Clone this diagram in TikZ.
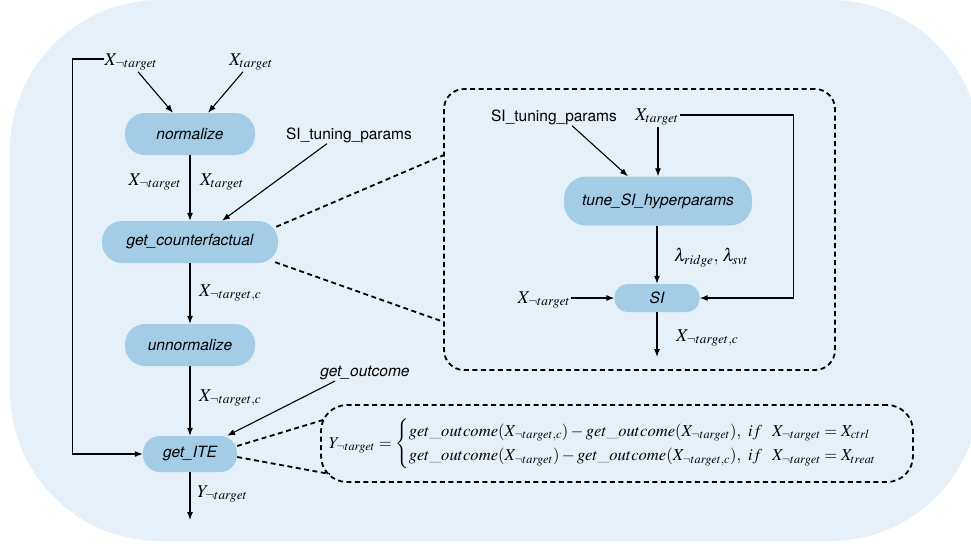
\documentclass[tikz,border=0pt]{standalone}
\usepackage{amsmath}
\usepackage{mathptmx}
\usepackage[no-math]{fontspec}
\setsansfont{TeX Gyre Heros}
\usetikzlibrary{arrows.meta}
\definecolor{bgblue}{RGB}{230,240,248}
\definecolor{nodeblue}{RGB}{163,205,230}
\tikzset{
  proc/.style={fill=nodeblue, rounded corners=20pt, inner sep=0pt, minimum height=42pt,
    font=\sffamily\itshape\fontsize{15.5}{18}\selectfont},
  lbl/.style={inner sep=1pt, font=\fontsize{18}{20}\selectfont},
  plain/.style={inner sep=1pt, font=\sffamily\fontsize{15.5}{18}\selectfont},
  arr/.style={-{Latex[length=8pt,width=6pt]}, line width=1.1pt},
  dsh/.style={line width=1.8pt, dash pattern=on 5pt off 3.5pt},
}
\begin{document}
\begin{tikzpicture}[x=1pt,y=-1pt]
\useasboundingbox (0,0) rectangle (971,544);
\begin{scope}
\clip (0,0) rectangle (971,544);
\fill[bgblue, rounded corners=150pt] (10,0) rectangle (980,541);
\end{scope}

% main column
\node[proc, minimum width=130pt] (norm) at (190,134) {normalize};
\node[proc, minimum width=176pt] (gc) at (190,242) {get\_counterfactual};
\node[proc, minimum width=130pt] (unnorm) at (190,345) {unnormalize};
\node[proc, minimum width=94pt, minimum height=36pt, rounded corners=17pt] (ite) at (190,454) {get\_ITE};

\node[lbl] (xnt) at (131,62) {$X_{\neg target}$};
\node[lbl] (xt) at (251,62) {$X_{target}$};
\draw[arr] ([xshift=7pt]xnt.south) -- ([xshift=-17pt]norm.north);
\draw[arr] ([xshift=-8pt]xt.south) -- ([xshift=18pt]norm.north);
\draw[arr] ([yshift=3pt]xnt.west) -- ++(-31,0) |- (ite.west);

\draw[arr] (norm.south) -- (gc.north);
\node[lbl] (l1) at (155,182) {$X_{\neg target}$};
\node[lbl] (l2) at (222,182) {$X_{target}$};
\node[plain] (sitp) at (349,135) {SI\_tuning\_params};
\draw[arr] ([xshift=-22pt]sitp.south) -- ([xshift=32pt]gc.north);

\draw[arr] (gc.south) -- (unnorm.north);
\node[lbl, anchor=west] (l3) at (198,293) {$X_{\neg target,c}$};
\draw[arr] (unnorm.south) -- (ite.north);
\node[lbl, anchor=west] (l4) at (198,398) {$X_{\neg target,c}$};
\node[plain, font=\sffamily\itshape\fontsize{15.5}{18}\selectfont] (go) at (365,373) {get\_outcome};
\coordinate (iteout) at (190,520);
\draw[arr] (ite.south) -- (iteout);
\node[lbl, anchor=west] (l5) at (196,494) {$Y_{\neg target}$};
\draw[arr] ([xshift=-30pt]go.south) -- ([xshift=37pt]ite.north);

% zoom box for SI
\node[dsh, draw, rounded corners=20pt, minimum width=391pt, minimum height=281pt] (zbox) at (639.5,229.5) {};
\coordinate (zb1) at (444,155);
\coordinate (zb2) at (444,322);
\draw[dsh] ([xshift=-2pt,yshift=-6pt]gc.north east) -- (zb1);
\draw[dsh] ([xshift=-3pt,yshift=1pt]gc.south east) -- (zb2);

\node[proc, minimum width=188pt, minimum height=49pt, rounded corners=22pt] (tune) at (658,201) {tune\_SI\_hyperparams};
\node[proc, minimum width=85pt, minimum height=28pt, rounded corners=13pt] (si) at (657,298) {SI};
\node[plain] (sitp2) at (554,117) {SI\_tuning\_params};
\node[lbl] (xt2) at (657,117) {$X_{target}$};
\draw[arr] ([xshift=18pt]sitp2.south) -- ([xshift=-30pt]tune.north);
\draw[arr] (xt2.south -| tune.north) -- (tune.north);
\draw[arr] ([yshift=2pt]xt2.east) -- ++(113,0) |- (si.east);
\draw[arr] (tune.south -| si.north) -- (si.north);
\node[lbl, anchor=west] (lam) at (673,258) {$\lambda_{ridge},\,\lambda_{svt}$};
\node[lbl] (xnt2) at (544,300) {$X_{\neg target}$};
\draw[arr] ([yshift=2pt]xnt2.east) -- (si.west);
\coordinate (siout) at (657,357);
\draw[arr] (si.south) -- (siout);
\node[lbl, anchor=west] (l6) at (675,338) {$X_{\neg target,c}$};

% formula box
\node[dsh, draw, rounded corners=26pt, minimum width=592pt, minimum height=77pt] (fbox) at (617,443.5) {};
\coordinate (fb1) at (323,420);
\coordinate (fb2) at (330,474);
\draw[dsh] ([yshift=8pt]ite.east) -- (fb1);
\draw[dsh] ([yshift=-3pt]ite.east) -- (fb2);
\node[inner sep=0pt, font=\fontsize{16.6}{19}\selectfont] (formula) at (611,444)
{$Y_{\neg target} = \begin{cases} get\_outcome(X_{\neg target,c}) - get\_outcome(X_{\neg target}),\ if\ \ X_{\neg target} = X_{ctrl}\\[2pt] get\_outcome(X_{\neg target}) - get\_outcome(X_{\neg target,c}),\ if\ \ X_{\neg target} = X_{treat}\end{cases}$};
\end{tikzpicture}
\end{document}
